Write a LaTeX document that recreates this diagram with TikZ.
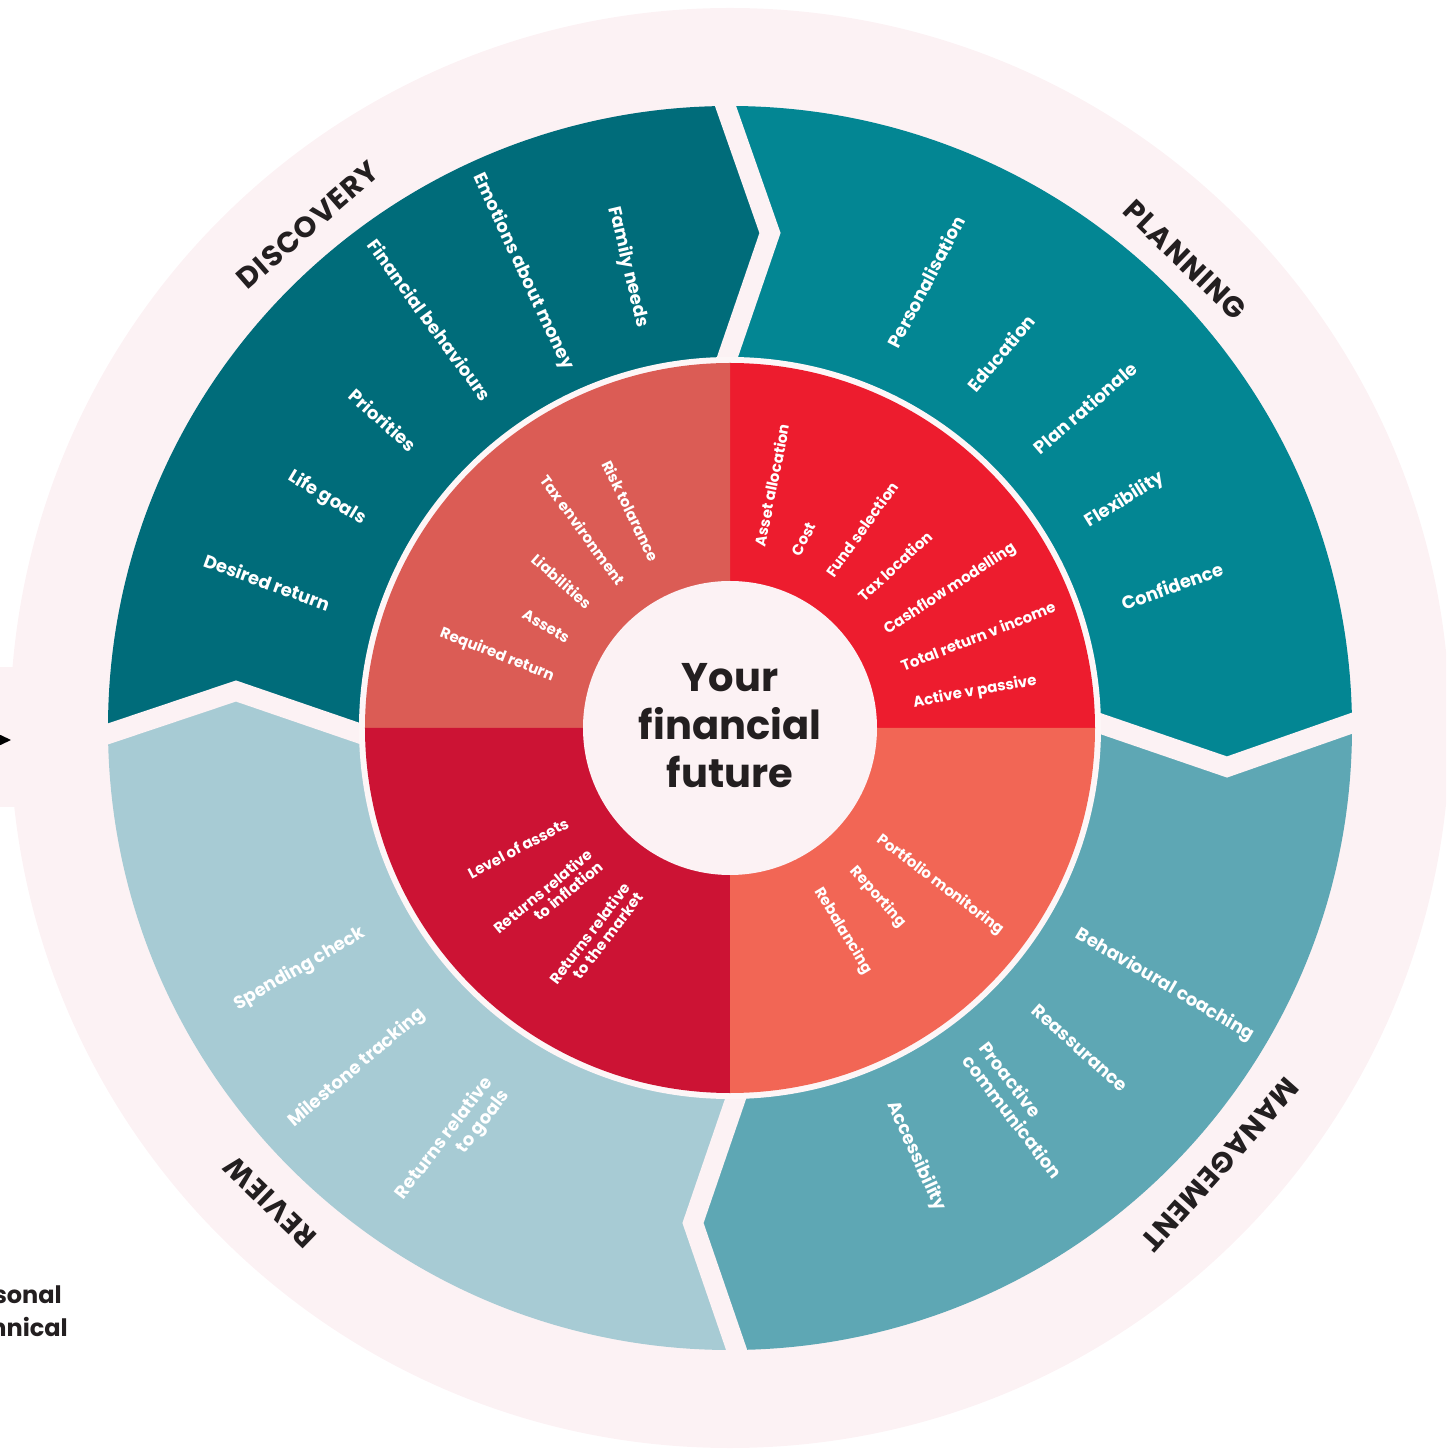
\documentclass[tikz,border=0pt]{standalone}
\usepackage{fontspec}
\setmainfont{Poppins}
\newfontfamily\titlefont{Poppins}[LetterSpace=4]
\definecolor{bgpink}{RGB}{252,242,244}
\definecolor{gapwhite}{RGB}{253,246,247}
\definecolor{darktext}{RGB}{35,31,32}
\definecolor{discov}{RGB}{0,108,122}
\definecolor{plann}{RGB}{3,134,147}
\definecolor{manag}{RGB}{94,167,180}
\definecolor{revw}{RGB}{167,203,212}
\definecolor{intl}{RGB}{219,92,85}
\definecolor{intr}{RGB}{237,28,46}
\definecolor{inbl}{RGB}{204,19,52}
\definecolor{inbr}{RGB}{242,102,85}
\tikzset{
  outitem/.style={text=white, font=\bfseries\fontsize{18}{21}\selectfont, inner sep=0pt},
  initem/.style={text=white, font=\bfseries\fontsize{15}{16}\selectfont, inner sep=0pt},
  sectitle/.style={text=darktext, font=\titlefont\bfseries\fontsize{29}{30}\selectfont, inner sep=0pt},
  gapline/.style={draw=bgpink, line width=20pt, line join=miter, miter limit=10},
}
\begin{document}
\begin{tikzpicture}[x=1pt,y=1pt]
\useasboundingbox (-730,-722) rectangle (716,728);
\clip (-730,-722) rectangle (716,728);
% background
\fill[bgpink] (-740,61) rectangle (-700,-79);
\fill[bgpink] (0,0) circle (720pt);
\fill[black] (-740,-2) -- (-719,-12) -- (-740,-22) -- cycle;
% chevron key points
\coordinate (tI) at (-48,241);  \coordinate (tM) at (40,495);   \coordinate (tO) at (-92,873);
\coordinate (rI) at (243,49);   \coordinate (rM) at (497,-39);  \coordinate (rO) at (875,93);
\coordinate (bI) at (51,-241);  \coordinate (bM) at (-37,-495); \coordinate (bO) at (95,-879);
\coordinate (lI) at (-246,-49); \coordinate (lM) at (-494,37);  \coordinate (lO) at (-881,-92);
\begin{scope}
  \clip (0,0) circle (622pt);
  \fill[discov] (0,0) -- (tI) -- (tM) -- (tO) -- (-900,900) -- (lO) -- (lM) -- (lI) -- cycle;
  \fill[plann] (0,0) -- (tI) -- (tM) -- (tO) -- (900,900) -- (rO) -- (rM) -- (rI) -- cycle;
  \fill[manag] (0,0) -- (rI) -- (rM) -- (rO) -- (900,-900) -- (bO) -- (bM) -- (bI) -- cycle;
  \fill[revw] (0,0) -- (bI) -- (bM) -- (bO) -- (-900,-900) -- (lO) -- (lM) -- (lI) -- cycle;
\end{scope}
% gaps
\coordinate (tA) at (-15,652); \coordinate (tB) at (-8,355);
\coordinate (rA) at (654,16);  \coordinate (rB) at (357,9);
\coordinate (bA) at (18,-655); \coordinate (bB) at (11,-355);
\coordinate (lA) at (-655,-17); \coordinate (lB) at (-357,-10);
\draw[gapline] (tA) -- (tM) -- (tB);
\draw[gapline] (rA) -- (rM) -- (rB);
\draw[gapline] (bA) -- (bM) -- (bB);
\draw[gapline] (lA) -- (lM) -- (lB);
\fill[gapwhite] (0,0) circle (371pt);
% inner ring
\fill[intr] (0,0) -- (0:365pt) arc[start angle=0, end angle=90, radius=365pt] -- cycle;
\fill[intl] (0,0) -- (90:365pt) arc[start angle=90, end angle=180, radius=365pt] -- cycle;
\fill[inbl] (0,0) -- (180:365pt) arc[start angle=180, end angle=270, radius=365pt] -- cycle;
\fill[inbr] (0,0) -- (270:365pt) arc[start angle=270, end angle=360, radius=365pt] -- cycle;
\fill[bgpink] (0,0) circle (147pt);
% center text
\node[text=darktext, font=\bfseries\fontsize{40}{48}\selectfont, align=center, inner sep=0pt] (centre) at (0,2) {Your\\financial\\future};
% section titles
\node[sectitle, rotate=41] (tdisc) at (-422,503) {DISCOVERY};
\node[sectitle, rotate=-44] (tplan) at (455,468) {PLANNING};
\node[sectitle, rotate=-131.7] (tman) at (490,-437) {MANAGEMENT};
\node[sectitle, rotate=136] (trev) at (-460,-474) {REVIEW};
% discovery items
\node[outitem, rotate=-76.6] (d1) at (-102,461) {Family needs};
\node[outitem, rotate=-65] (d2) at (-207,456) {Emotions about money};
\node[outitem, rotate=-53.7] (d3) at (-300,408) {Financial behaviours};
\node[outitem, rotate=-41.7] (d4) at (-347,308) {Priorities};
\node[outitem, rotate=-31] (d5) at (-403,230) {Life goals};
\node[outitem, rotate=-20] (d6) at (-463,146) {Desired return};
% planning items
\node[outitem, rotate=62.4] (p1) at (196,446) {Personalisation};
\node[outitem, rotate=49.7] (p2) at (271,375) {Education};
\node[outitem, rotate=41] (p3) at (355,320) {Plan rationale};
\node[outitem, rotate=32] (p4) at (395,228) {Flexibility};
\node[outitem, rotate=20] (p5) at (442,142) {Confidence};
% management items
\node[outitem, rotate=-30.5] (m1) at (435,-257) {Behavioural coaching};
\node[outitem, rotate=-41.6] (m2) at (350,-320) {Reassurance};
\node[outitem, rotate=-52.4, align=left] (m3) at (291,-382) {Proactive\\communication};
\node[outitem, rotate=-65.5] (m4) at (186,-428) {Accessibility};
% review items
\node[outitem, rotate=30] (r1) at (-430,-241) {Spending check};
\node[outitem, rotate=40.4] (r2) at (-373,-340) {Milestone tracking};
\node[outitem, rotate=52.7, align=right] (r3) at (-277,-417) {Returns relative\\to goals};
% inner top-left
\node[initem, rotate=-64] (a1) at (-99,217) {Risk tolarance};
\node[initem, rotate=-53.7] (a2) at (-147,198) {Tax environment};
\node[initem, rotate=-41.4] (a3) at (-168,147) {Liabilities};
\node[initem, rotate=-30.3] (a4) at (-184,102) {Assets};
\node[initem, rotate=-21.6] (a5) at (-233,73) {Required return};
% inner top-right
\node[initem, rotate=78.8] (b1) at (42,243) {Asset allocation};
\node[initem, rotate=63] (b2) at (74,189) {Cost};
\node[initem, rotate=54.4] (b3) at (132,199) {Fund selection};
\node[initem, rotate=43] (b4) at (165,162) {Tax location};
\node[initem, rotate=33.3] (b5) at (220,139) {Cashflow modelling};
\node[initem, rotate=21.5] (b6) at (248,92) {Total return v income};
\node[initem, rotate=10.3] (b7) at (245,36) {Active v passive};
% inner bottom-left
\node[initem, rotate=27.9] (c1) at (-212,-120) {Level of assets};
\node[initem, rotate=39.6, align=right] (c2) at (-182,-169) {Returns relative\\to inflation};
\node[initem, rotate=52.7, align=right] (c3) at (-134,-210) {Returns relative\\to the market};
% inner bottom-right
\node[initem, rotate=-37.2] (e1) at (210,-157) {Portfolio monitoring};
\node[initem, rotate=-48.5] (e2) at (148,-169) {Reporting};
\node[initem, rotate=-58.6] (e3) at (113,-203) {Rebalancing};
% partial key texts
\node[text=darktext, font=\bfseries\fontsize{24}{26}\selectfont, anchor=base east, inner sep=0pt] (k1) at (-668,-575) {Personal};
\node[text=darktext, font=\bfseries\fontsize{24}{26}\selectfont, anchor=base east, inner sep=0pt] (k2) at (-662,-608) {Technical};
\end{tikzpicture}
\end{document}
